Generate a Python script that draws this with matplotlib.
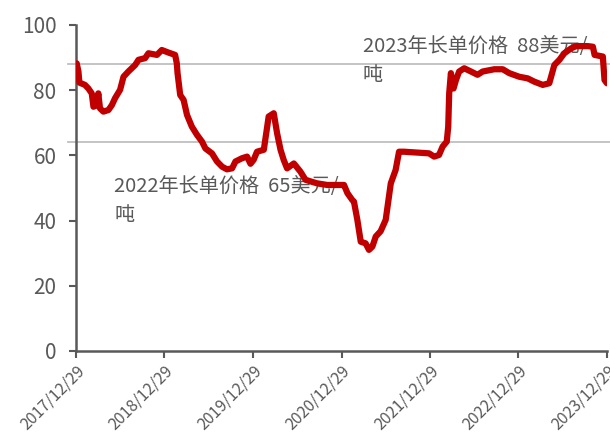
import numpy as np
import pandas as pd
import matplotlib
matplotlib.use('Agg')
import matplotlib.pyplot as plt

plt.rcParams['font.family'] = ['Noto Sans CJK SC', 'DejaVu Sans']

# Price series (USD/t)
dates = ['2018-01-01', '2018-01-08', '2018-01-12', '2018-02-04', '2018-02-18',
         '2018-03-04', '2018-03-11', '2018-03-25', '2018-03-31', '2018-04-07',
         '2018-04-21', '2018-05-12', '2018-05-26', '2018-06-08', '2018-06-29',
         '2018-07-13', '2018-08-02', '2018-08-30', '2018-09-13', '2018-10-10',
         '2018-10-24', '2018-11-28', '2018-12-18', '2019-01-15', '2019-02-11',
         '2019-02-18', '2019-02-21', '2019-03-04', '2019-03-18', '2019-04-01',
         '2019-04-21', '2019-05-12', '2019-06-02', '2019-06-16', '2019-07-13',
         '2019-08-03', '2019-08-24', '2019-09-13', '2019-10-04', '2019-10-18',
         '2019-11-14', '2019-12-05', '2019-12-19', '2020-01-01', '2020-01-15',
         '2020-02-12', '2020-02-26', '2020-03-03', '2020-03-24', '2020-04-07',
         '2020-04-21', '2020-05-04', '2020-05-18', '2020-06-15', '2020-07-12',
         '2020-08-02', '2020-08-23', '2020-09-19', '2020-10-31', '2020-12-25',
         '2021-01-08', '2021-01-22', '2021-02-11', '2021-02-18', '2021-03-04',
         '2021-03-18', '2021-04-07', '2021-04-21', '2021-05-05', '2021-05-19',
         '2021-06-08', '2021-06-29', '2021-07-20', '2021-08-09', '2021-08-23',
         '2021-09-13', '2021-12-25', '2022-01-15', '2022-02-04', '2022-02-19',
         '2022-03-08', '2022-03-14', '2022-03-18', '2022-03-25', '2022-04-05',
         '2022-04-15', '2022-04-28', '2022-05-19', '2022-06-16', '2022-07-13',
         '2022-08-03', '2022-09-20', '2022-10-25', '2022-11-21', '2023-01-01',
         '2023-02-05', '2023-03-04', '2023-04-08', '2023-05-05', '2023-05-26',
         '2023-06-16', '2023-07-06', '2023-08-03', '2023-08-24', '2023-10-11',
         '2023-11-01', '2023-11-08', '2023-12-12', '2023-12-19', '2023-12-29']
prices = [88.2, 85.7, 82.3, 81.6, 80.5,
          79.0, 74.9, 75.4, 79.0, 74.4,
          73.4, 73.9, 75.4, 77.5, 80.1,
          84.1, 85.7, 87.7, 89.3, 89.8,
          91.3, 90.8, 92.3, 91.5, 90.8,
          88.2, 85.2, 78.5, 77.0, 72.4,
          68.8, 66.3, 64.2, 62.1, 60.6,
          58.1, 56.5, 55.7, 56.0, 58.1,
          59.1, 59.6, 57.4, 58.6, 61.1,
          61.7, 68.8, 71.9, 72.9, 66.7,
          61.7, 58.6, 56.0, 57.5, 55.0,
          52.5, 52.0, 51.4, 50.9, 50.9,
          50.9, 48.4, 46.3, 45.8, 40.2,
          33.5, 33.0, 31.0, 32.0, 35.1,
          36.7, 40.2, 51.4, 55.5, 61.1,
          61.1, 60.6, 59.6, 60.1, 62.7,
          64.2, 68.8, 79.0, 85.2, 80.5,
          83.1, 85.7, 86.7, 85.7, 84.7,
          85.7, 86.4, 86.4, 85.2, 84.1,
          83.6, 82.6, 81.6, 82.1, 87.7,
          89.3, 91.3, 92.8, 93.5, 93.5,
          93.3, 90.8, 90.3, 83.1, 82.1]

contract_2023 = 88
contract_2022 = 64.2
label_2023 = '2023年长单价格  88美元/\n吨'
label_2022 = '2022年长单价格  65美元/\n吨'
tick_dates = ['2017-12-29', '2018-12-29', '2019-12-29', '2020-12-29',
              '2021-12-29', '2022-12-29', '2023-12-29']


def main():
    fig = plt.figure(figsize=(6.1, 4.37), dpi=100)
    ax = fig.add_axes([0.1246, 0.197, 0.8704, 0.746])

    x = pd.to_datetime(dates)
    ticks = pd.to_datetime(tick_dates)
    grey = '#595959'

    # Contract price reference lines
    for level in (contract_2023, contract_2022):
        ax.axhline(level, xmin=-0.015, xmax=1.01, color='#BFBFBF', lw=1.3,
                   clip_on=False, zorder=1)

    ax.plot(x, prices, color='#C00000', lw=4.5, solid_joinstyle='round',
            solid_capstyle='round', zorder=3)

    ax.text(pd.Timestamp('2021-03-26'), 96.5, label_2023, fontsize=14.5,
            color=grey, va='top', linespacing=1.45, zorder=2)
    ax.text(pd.Timestamp('2018-06-04'), 53.5, label_2022, fontsize=14.5,
            color=grey, va='top', linespacing=1.45, zorder=2)

    ax.set_xlim(ticks[0], ticks[-1])
    ax.set_ylim(0, 100)
    ax.set_yticks(np.arange(0, 101, 20))
    ax.set_xticks(ticks)
    ax.set_xticklabels([d.replace('-', '/') for d in tick_dates],
                       rotation=45, ha='right', rotation_mode='anchor',
                       fontsize=11.5, color=grey)
    ax.tick_params(axis='y', labelsize=15, colors=grey, length=5, width=1.5,
                   pad=9)
    ax.tick_params(axis='x', colors=grey, length=5, width=1.5, pad=3)

    for side in ('top', 'right'):
        ax.spines[side].set_visible(False)
    for side in ('left', 'bottom'):
        ax.spines[side].set_color(grey)
        ax.spines[side].set_linewidth(1.8)

    fig.savefig('out.png', dpi=100)


if __name__ == '__main__':
    main()
